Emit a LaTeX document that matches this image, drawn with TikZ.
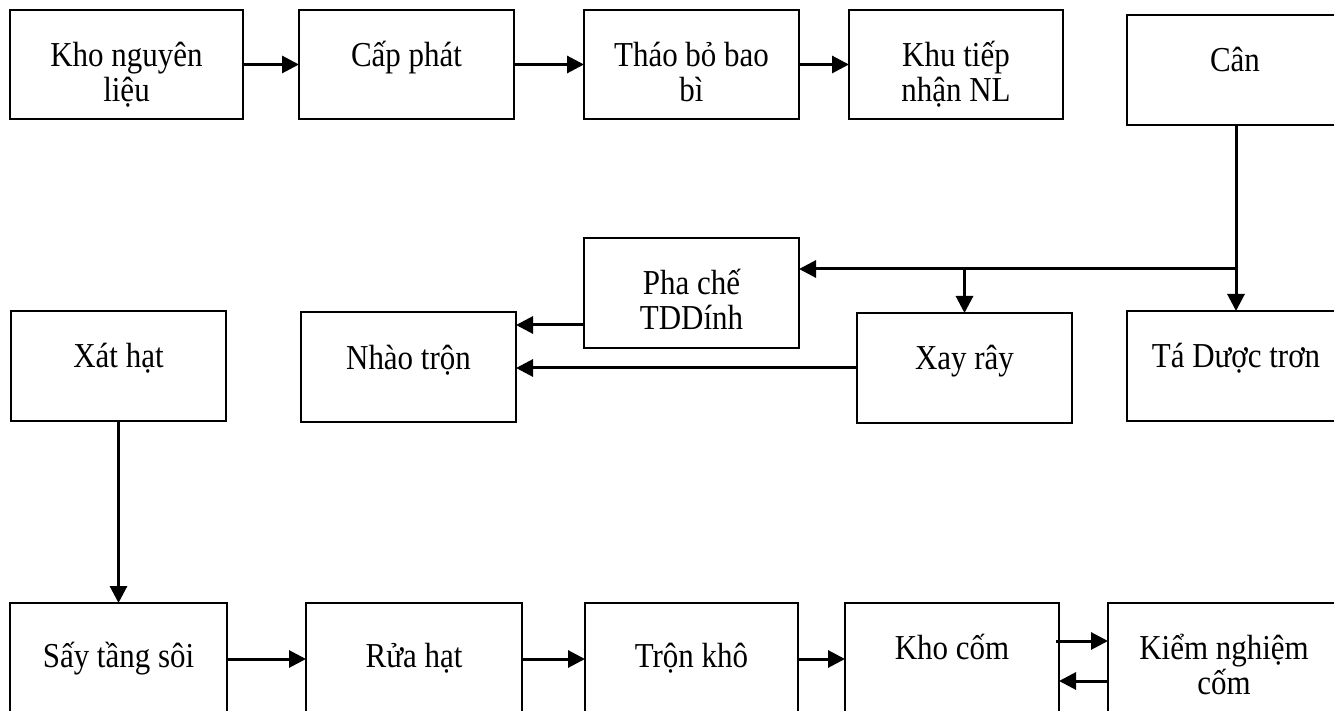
\documentclass[tikz,border=0pt]{standalone}
\usepackage{fontspec}
\setmainfont{Liberation Serif}
\usetikzlibrary{arrows.meta}

\tikzset{
  pbox/.style={draw, rectangle, line width=2pt, inner sep=0pt, outer sep=0pt},
  lbl/.style={anchor=base, inner sep=0pt, outer sep=0pt, xscale=0.885,
              font=\fontsize{35}{35}\selectfont},
  link/.style={line width=3pt},
  arr/.style={link, -{Triangle[length=17pt,width=17pt]}},
}

% a process box given by its left, top, right and bottom edges
\newcommand\procbox[5]{%
  \node[pbox, minimum width={(#4-#2)*1pt}, minimum height={(#5-#3)*1pt}]
    (#1) at ({(#2+#4)/2},{(#3+#5)/2}) {};}
% its caption, first baseline #2 below the top edge
\newcommand\boxtext[3]{\node[lbl] (#1-t) at ([yshift=-#2pt]#1.north) {#3};}
\newcommand\twoline[2]{\begin{tabular}[t]{@{}c@{}}#1\\#2\end{tabular}}

\begin{document}
\begin{tikzpicture}[x=1pt, y=-1pt]
  \useasboundingbox (0,0) rectangle (1334,711);
  \clip (0,0) rectangle (1334,711);

  % top row
  \procbox{kho}{10}{10}{243}{119}
  \procbox{cap}{299}{10}{514}{119}
  \procbox{thao}{584}{10}{799}{119}
  \procbox{khu}{849}{10}{1063}{119}
  \procbox{can}{1127}{15}{1343}{125}
  % middle row
  \procbox{pha}{584}{238}{799}{348}
  \procbox{xat}{11}{311}{226}{421}
  \procbox{nhao}{301}{312}{516}{422}
  \procbox{xay}{857}{313}{1072}{423}
  \procbox{ta}{1127}{311}{1345}{421}
  % bottom row
  \procbox{say}{10}{603}{227}{715}
  \procbox{rua}{306}{603}{522}{715}
  \procbox{tron}{585}{603}{798}{715}
  \procbox{khocom}{845}{603}{1059}{715}
  \procbox{kiem}{1108}{603}{1340}{715}

  \boxtext{kho}{57}{\twoline{Kho nguyên}{liệu}}
  \boxtext{cap}{57}{Cấp phát}
  \boxtext{thao}{57}{\twoline{Tháo bỏ bao}{bì}}
  \boxtext{khu}{57}{\twoline{Khu tiếp}{nhận NL}}
  \boxtext{can}{57}{Cân}
  \boxtext{pha}{57}{\twoline{Pha chế}{TDDính}}
  \boxtext{xat}{57}{Xát hạt}
  \boxtext{nhao}{58}{Nhào trộn}
  \boxtext{xay}{57}{Xay rây}
  \boxtext{ta}{56}{Tá Dược trơn}
  \boxtext{say}{64}{Sấy tầng sôi}
  \boxtext{rua}{64}{Rửa hạt}
  \boxtext{tron}{64}{Trộn khô}
  \boxtext{khocom}{56}{Kho cốm}
  \boxtext{kiem}{56}{\twoline{Kiểm nghiệm}{cốm}}

  % top row flow
  \draw[arr] (kho.east) -- (cap.west);
  \draw[arr] (cap.east) -- (thao.west);
  \draw[arr] (thao.east) -- (khu.west);

  % weighing splits into three branches
  \coordinate (split) at (1236,269);
  \draw[link] (can.south -| split) -- (split);
  \draw[arr] (split) -- (split -| pha.east);
  \draw[arr] (split -| xay.north) -- (xay.north);
  \draw[arr] (split) -- (split |- ta.north);

  % into the kneading step
  \coordinate (p1) at ([yshift=-32pt]pha.west);
  \draw[arr] (p1) -- (p1 -| nhao.east);
  \draw[arr] (xay.west) -- (xay.west -| nhao.east);

  % granulating, drying and onwards
  \draw[arr] (xat.south) -- (say.north);
  \draw[arr] (say.east) -- (rua.west);
  \draw[arr] (rua.east) -- (tron.west);
  \draw[arr] (tron.east) -- (khocom.west);

  % sampling loop with quality control
  \coordinate (q1) at ([xshift=-3pt, yshift=18pt]khocom.east);
  \draw[arr] (q1) -- (q1 -| kiem.west);
  \coordinate (q2) at ([yshift=-22pt]kiem.west);
  \draw[arr] (q2) -- (q2 -| khocom.east);
\end{tikzpicture}
\end{document}
